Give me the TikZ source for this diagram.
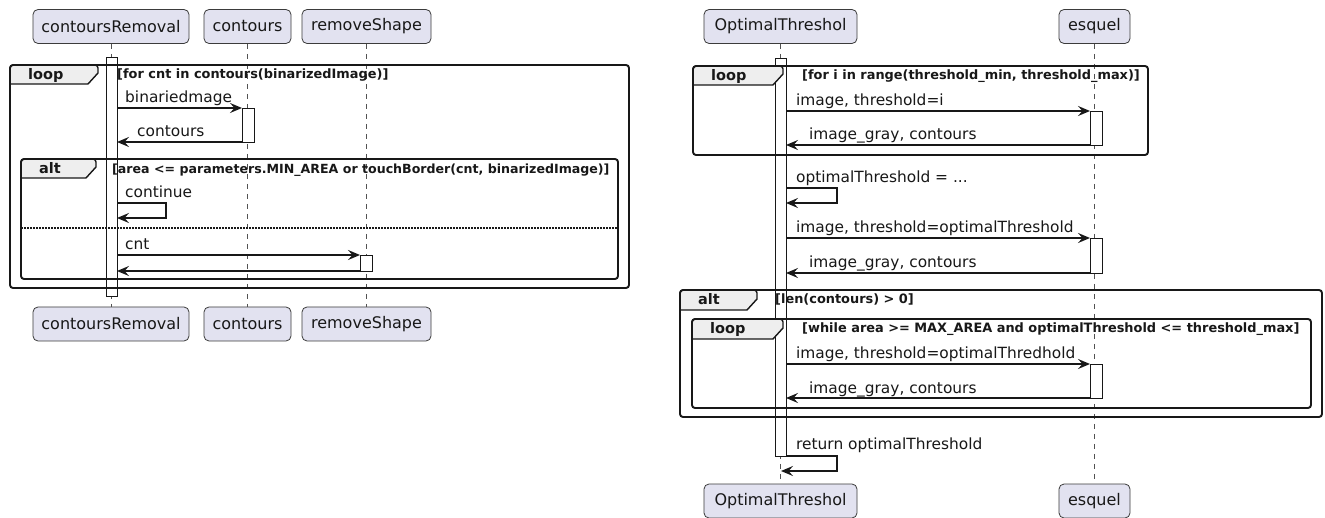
\documentclass[tikz,border=0pt]{standalone}
\usepackage{fontspec}
\setmainfont{DejaVu Sans}
\usetikzlibrary{arrows.meta}
\definecolor{partfill}{HTML}{E2E2F0}
\definecolor{lineclr}{HTML}{181818}
\definecolor{tabfill}{HTML}{EEEEEE}
\tikzset{
  part/.style={draw=lineclr!85, fill=partfill, rounded corners=5pt, line width=0.8pt, minimum height=34pt, inner sep=0pt, font=\fontsize{16}{19}\selectfont, text=lineclr},
  life/.style={draw=lineclr!75, dash pattern=on 5pt off 5pt, line width=0.7pt},
  act/.style={draw=lineclr, fill=white, line width=0.9pt},
  msg/.style={draw=lineclr, line width=1.8pt, -{Stealth[length=12pt,width=10pt,inset=4.5pt]}},
  mlabel/.style={anchor=base west, inner sep=0pt, font=\fontsize{15.4}{18}\selectfont, text=lineclr},
  frm/.style={draw=lineclr, line width=1.9pt, rounded corners=3pt},
  tabshape/.style={draw=lineclr, line width=1.4pt, fill=tabfill},
  tablabel/.style={anchor=base west, inner sep=0pt, font=\bfseries\fontsize{14.5}{16}\selectfont, text=lineclr},
  cond/.style={anchor=base west, inner sep=0pt, font=\bfseries\fontsize{12.9}{15}\selectfont, text=lineclr},
  sep/.style={draw=lineclr, line width=1.1pt, dash pattern=on 1.5pt off 1.5pt}
}
\begin{document}
\begin{tikzpicture}[x=1pt, y=-1pt]
\useasboundingbox[fill=white] (0,0) rectangle (1325,518);
% ---------- participants (left) ----------
\node[part, minimum width=156pt] (crT) at (111,26.5) {contoursRemoval};
\node[part, minimum width=87pt] (coT) at (247.5,26.5) {contours};
\node[part, minimum width=129pt] (rsT) at (366.5,26.5) {removeShape};
\node[part, minimum width=156pt] (crB) at (111,324) {contoursRemoval};
\node[part, minimum width=87pt] (coB) at (247.5,324) {contours};
\node[part, minimum width=129pt] (rsB) at (366.5,324) {removeShape};
% ---------- participants (right) ----------
\node[part, minimum width=153pt] (otT) at (780.5,26.5) {OptimalThreshol};
\node[part, minimum width=71pt] (esT) at (1094.5,26.5) {esquel};
\node[part, minimum width=153pt] (otB) at (780.5,501) {OptimalThreshol};
\node[part, minimum width=71pt] (esB) at (1094.5,501) {esquel};
% ---------- lifelines ----------
\draw[life] (crT.south) -- (crB.north);
\draw[life] (coT.south) -- (coB.north);
\draw[life] (rsT.south) -- (rsB.north);
\draw[life] (otT.south) -- (otB.north);
\draw[life] (esT.south) -- (esB.north);
% ---------- activations ----------
\draw[act] (106,57) rectangle (117,296);
\draw[act] (242,108) rectangle (254,142);
\draw[act] (360,255) rectangle (372,271);
\draw[act] (775,58) rectangle (786,456);
\draw[act] (1090,111) rectangle (1102,145);
\draw[act] (1090,238) rectangle (1102,273);
\draw[act] (1090,364) rectangle (1102,398);
% ---------- frames (left) ----------
\draw[tabshape] (10,84) -- (10,68) [rounded corners=3pt] -- (10,65) -- (98,65) [sharp corners] -- (98,73) -- (88,84) -- cycle;
\draw[frm] (10,65) rectangle (629,288);
\node[tablabel] (lp1) at (28,80) {loop};
\node[cond] (lc1) at (117,79) {[for cnt in contours(binarizedImage)]};
\draw[tabshape] (21,178) -- (21,162) [rounded corners=3pt] -- (21,159) -- (96,159) [sharp corners] -- (96,167) -- (86,178) -- cycle;
\draw[frm] (21,159) rectangle (618,279);
\node[tablabel] (al1) at (39,174) {alt};
\node[cond, font=\bfseries\fontsize{12.6}{15}\selectfont] (ac1) at (112,174) {[area <= parameters.MIN\_AREA or touchBorder(cnt, binarizedImage)]};
\coordinate (sepL) at (21,228);
\coordinate (sepR) at (618,228);
\draw[sep] (sepL) -- (sepR);
% ---------- frames (right) ----------
\draw[tabshape] (693,85) -- (693,69) [rounded corners=3pt] -- (693,66) -- (783,66) [sharp corners] -- (783,74) -- (773,85) -- cycle;
\draw[frm] (693,66) rectangle (1148,155);
\node[tablabel] (lp2) at (711,81) {loop};
\node[cond] (lc2) at (802,80) {[for i in range(threshold\_min, threshold\_max)]};
\draw[tabshape] (680,310) -- (680,293) [rounded corners=3pt] -- (680,290) -- (757,290) [sharp corners] -- (757,299) -- (747,310) -- cycle;
\draw[frm] (680,290) rectangle (1322,417);
\node[tablabel] (al2) at (698,305) {alt};
\node[cond] (ac2) at (775,304) {[len(contours) > 0]};
\draw[tabshape] (692,339) -- (692,322) [rounded corners=3pt] -- (692,319) -- (783,319) [sharp corners] -- (783,328) -- (773,339) -- cycle;
\draw[frm] (692,319) rectangle (1311,408);
\node[tablabel] (lp3) at (710,334) {loop};
\node[cond] (lc3) at (802,333) {[while area >= MAX\_AREA and optimalThreshold <= threshold\_max]};
% ---------- messages (left) ----------
\coordinate (a1s) at (117,108); \coordinate (a1e) at (242,108);
\draw[msg] (a1s) -- (a1e);
\node[mlabel] (t1) at (125,103) {binariedmage};
\coordinate (a2s) at (242,142); \coordinate (a2e) at (117,142);
\draw[msg] (a2s) -- (a2e);
\node[mlabel] (t2) at (137,137) {contours};
\coordinate (s1a) at (117,203); \coordinate (s1b) at (166,203);
\coordinate (s1c) at (166,218); \coordinate (s1d) at (117,218);
\draw[msg] (s1a) -- (s1b) -- (s1c) -- (s1d);
\node[mlabel] (t3) at (125,198) {continue};
\coordinate (a3s) at (117,255); \coordinate (a3e) at (360,255);
\draw[msg] (a3s) -- (a3e);
\node[mlabel] (t4) at (125,250) {cnt};
\coordinate (a4s) at (360,271); \coordinate (a4e) at (117,271);
\draw[msg] (a4s) -- (a4e);
% ---------- messages (right) ----------
\coordinate (b1s) at (786,111); \coordinate (b1e) at (1090,111);
\draw[msg] (b1s) -- (b1e);
\node[mlabel] (u1) at (796,106) {image, threshold=i};
\coordinate (b2s) at (1090,145); \coordinate (b2e) at (786,145);
\draw[msg] (b2s) -- (b2e);
\node[mlabel] (u2) at (809,140) {image\_gray, contours};
\coordinate (s2a) at (786,188); \coordinate (s2b) at (837,188);
\coordinate (s2c) at (837,203); \coordinate (s2d) at (786,203);
\draw[msg] (s2a) -- (s2b) -- (s2c) -- (s2d);
\node[mlabel] (u3) at (796,183) {optimalThreshold = ...};
\coordinate (b3s) at (786,238); \coordinate (b3e) at (1090,238);
\draw[msg] (b3s) -- (b3e);
\node[mlabel] (u4) at (796,233) {image, threshold=optimalThreshold};
\coordinate (b4s) at (1090,273); \coordinate (b4e) at (786,273);
\draw[msg] (b4s) -- (b4e);
\node[mlabel] (u5) at (809,268) {image\_gray, contours};
\coordinate (b5s) at (786,364); \coordinate (b5e) at (1090,364);
\draw[msg] (b5s) -- (b5e);
\node[mlabel] (u6) at (796,359) {image, threshold=optimalThredhold};
\coordinate (b6s) at (1090,398); \coordinate (b6e) at (786,398);
\draw[msg] (b6s) -- (b6e);
\node[mlabel] (u7) at (809,393) {image\_gray, contours};
\coordinate (s3a) at (786,456); \coordinate (s3b) at (837,456);
\coordinate (s3c) at (837,471); \coordinate (s3d) at (781,471);
\draw[msg] (s3a) -- (s3b) -- (s3c) -- (s3d);
\node[mlabel] (u8) at (796,449) {return optimalThreshold};
\end{tikzpicture}
\end{document}
